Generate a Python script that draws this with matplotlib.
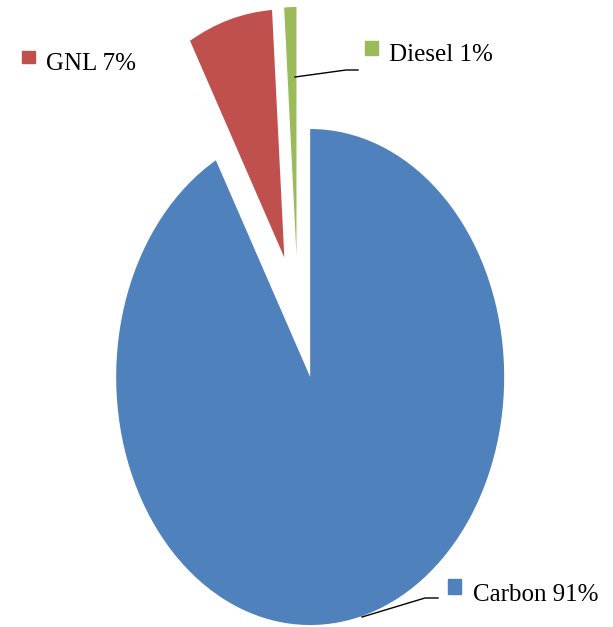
import matplotlib.pyplot as plt
from matplotlib.patches import Rectangle
from matplotlib.lines import Line2D

labels = ['Carbon', 'GNL', 'Diesel']
shares = [91, 7, 1]
colors = ['#4F81BD', '#C0504D', '#9BBB59']
explode = [0.25, 0.25, 0.25]

W, H = 613, 627
# pie centre and radii in pixels (the pie is stretched vertically)
cx, cy = 298, 317
rx, ry = 194, 248


def fxy(px, py):
    # pixel position (from top-left) -> figure fraction
    return px / W, 1 - py / H


fig = plt.figure(figsize=(W / 100, H / 100), dpi=100)
ax = fig.add_axes([0, 0, 1, 1])
ax.pie(shares, colors=colors, explode=explode, startangle=90,
       counterclock=False, wedgeprops=dict(linewidth=0))
ax.set_aspect('auto')
ax.set_xlim(-cx / rx, (W - cx) / rx)
ax.set_ylim(-(H - cy) / ry, cy / ry)
ax.axis('off')

# legend-style labels: (square box, text x, baseline y) in pixels
label_pos = {
    'GNL': ((22, 51, 13, 12), 46, 70),
    'Diesel': ((365, 41, 13, 14), 389, 61),
    'Carbon': ((448, 579, 13, 15), 473, 601),
}
for name, val, col in zip(labels, shares, colors):
    (bx, by, bw, bh), tx, ty = label_pos[name]
    x0, y0 = fxy(bx, by + bh)
    fig.patches.append(Rectangle((x0, y0), bw / W, bh / H, color=col,
                                 transform=fig.transFigure, figure=fig))
    x, y = fxy(tx, ty)
    fig.text(x, y, f'{name} {val}%', family='Liberation Serif', fontsize=18,
             va='baseline', ha='left', color='black')

# leader lines
for pts in ([(295, 77), (346, 70), (358, 70)],
            [(362, 617), (425, 598), (438, 598)]):
    xs, ys = zip(*[fxy(*p) for p in pts])
    fig.lines.append(Line2D(xs, ys, color='black', lw=1,
                            transform=fig.transFigure, figure=fig))

fig.savefig('out.png', dpi=100)
